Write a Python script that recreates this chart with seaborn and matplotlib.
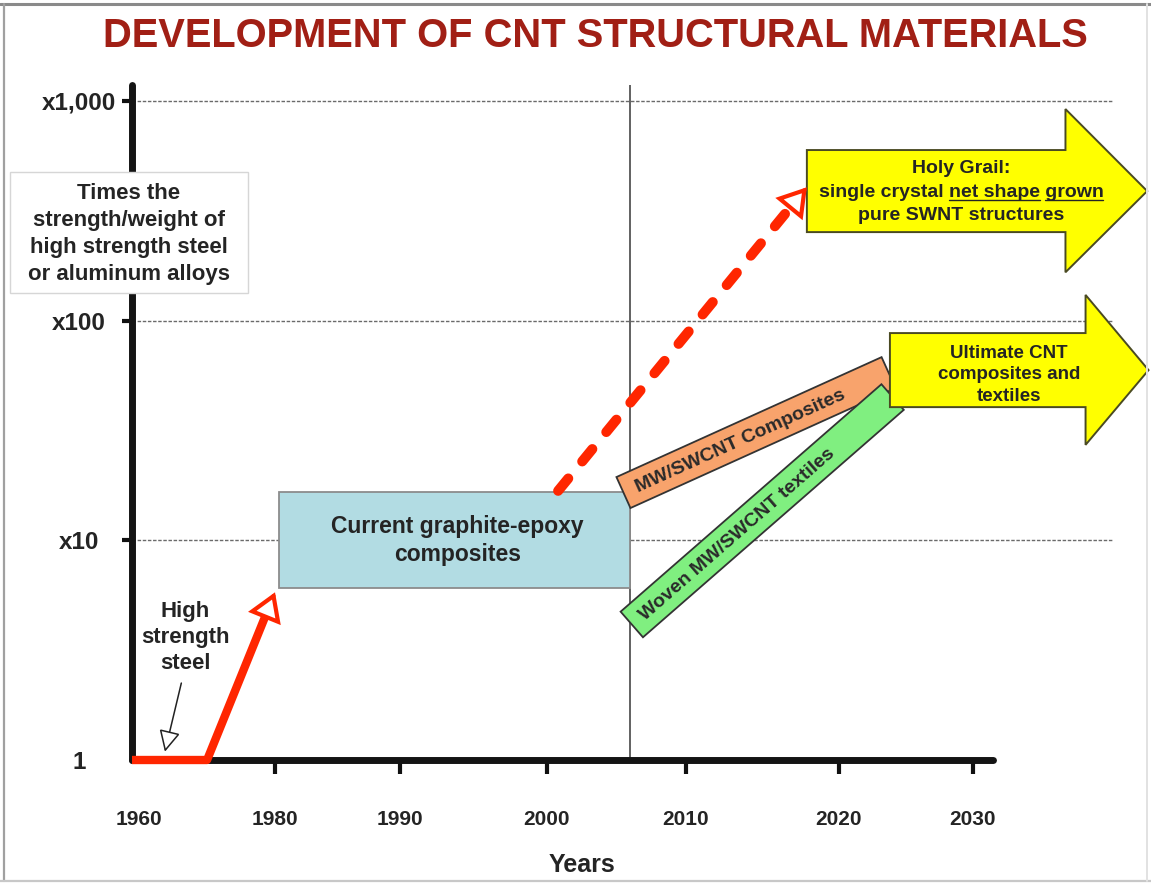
import numpy as np
import pandas as pd
import matplotlib
matplotlib.use("Agg")
import matplotlib.pyplot as plt
import matplotlib.transforms as mtransforms
from matplotlib.patches import Polygon, Rectangle
from matplotlib.lines import Line2D
from matplotlib.ticker import FixedLocator, NullLocator
import seaborn as sns

sns.set_theme(style="white")
plt.rcParams["font.family"] = ["Liberation Sans", "DejaVu Sans"]
plt.rcParams["font.weight"] = "bold"

# ---------------- data ----------------
year_ticks = [1960, 1980, 1990, 2000, 2010, 2020, 2030]
year_labels = ["1960", "1980", "1990", "2000", "2010", "2020", "2030"]
# the time axis is irregular: relative spacing of the labelled years
year_slots = [0, 143, 268, 415, 554, 707, 841]
slots_per_year_beyond = 13.4

value_ticks = [1, 10, 100, 1000]
value_labels = ["1", "x10", "x100", "x1,000"]

steel_years = [1960, 1970.5, 1980]
steel_values = [1.0, 1.0, 5.8]
steel_note_from = (1966.9, 2.24)
steel_note_to = (1964.6, 1.09)

graphite_years = [1980.3, 2006.0]
graphite_values = [6.07, 16.6]

grail_path_years = [2000.8, 2017.9]
grail_path_values = [16.8, 405.0]

today_year = 2006

mw_years = [2005.5, 2023.7]
mw_values = [16.5, 58.0]
woven_years = [2006.1, 2024.0]
woven_values = [4.14, 44.9]

grail_years = [2017.9, 2036.9, 2043.0]      # tail, head base, tip
grail_body = [253.0, 598.0]
grail_head = [166.0, 919.0]

ultimate_years = [2023.8, 2038.4, 2043.1]
ultimate_body = [40.4, 87.8]
ultimate_head = [27.2, 131.0]

# ---------------- style ----------------
RED = "#ff2600"
TXT = "#242424"
W, H = 1151, 884


def fx(px):
    return px / W


def fy(py):
    return 1 - py / H


YRS = np.array(year_ticks, float)
SLT = np.array(year_slots, float)
lo_rate = (SLT[1] - SLT[0]) / (YRS[1] - YRS[0])


def year_to_slot(x):
    x = np.asarray(x, float)
    s = np.interp(x, YRS, SLT)
    s = np.where(x > YRS[-1], SLT[-1] + (x - YRS[-1]) * slots_per_year_beyond, s)
    s = np.where(x < YRS[0], SLT[0] + (x - YRS[0]) * lo_rate, s)
    return s


def slot_to_year(s):
    s = np.asarray(s, float)
    x = np.interp(s, SLT, YRS)
    x = np.where(s > SLT[-1], YRS[-1] + (s - SLT[-1]) / slots_per_year_beyond, x)
    x = np.where(s < SLT[0], YRS[0] + (s - SLT[0]) / lo_rate, x)
    return x


fig = plt.figure(figsize=(W / 100, H / 100), dpi=100)
fig.patch.set_facecolor("white")
ax = fig.add_axes([fx(132), fy(760), (1150 - 132) / W, (760 - 85) / H])
ax.set_facecolor("none")

ax.set_xscale("function", functions=(year_to_slot, slot_to_year))
ax.set_yscale("log")
ax.set_xlim(1960, float(slot_to_year(1018)))
ax.set_ylim(1, 10 ** ((760 - 85) / 219.67))

ax.xaxis.set_major_locator(FixedLocator(year_ticks))
ax.set_xticks(year_ticks, labels=year_labels)
ax.xaxis.set_minor_locator(NullLocator())
ax.yaxis.set_major_locator(FixedLocator(value_ticks))
ax.set_yticks(value_ticks, labels=value_labels)
ax.yaxis.set_minor_locator(NullLocator())

ax.tick_params(axis="x", which="major", bottom=True, direction="out", length=10,
               width=3, color="#111111", pad=26, labelsize=15, labelcolor=TXT)
ax.tick_params(axis="y", which="major", left=True, direction="out", length=7,
               width=3, color="#111111", pad=31, labelsize=17.5, labelcolor=TXT)
for lab in ax.get_yticklabels():
    lab.set_horizontalalignment("center")
for lab in ax.get_xticklabels() + ax.get_yticklabels():
    lab.set_fontweight("bold")
first_tick = ax.xaxis.get_major_ticks()[0]
first_tick.tick1line.set_visible(False)
first_tick.label1.set_transform(first_tick.label1.get_transform()
                                + mtransforms.ScaledTranslation(7 / 100, 0, fig.dpi_scale_trans))
ax.yaxis.get_major_ticks()[0].tick1line.set_visible(False)

for side in ["top", "right"]:
    ax.spines[side].set_visible(False)
for side in ["left", "bottom"]:
    ax.spines[side].set_linewidth(5)
    ax.spines[side].set_color("#141414")
    ax.spines[side].set_capstyle("round")
ax.spines["bottom"].set_bounds(1960, 2031.5)

# dashed reference lines at each decade of improvement
ax.hlines(value_ticks[1:], 1960, 2040.4, colors="#6a6a6a",
          linestyles=(0, (2.5, 1.2)), linewidth=1.0, zorder=0.5)
ax.axvline(today_year, color="#555555", lw=1.3, zorder=1.5)

T = ax.transData
Tinv = ax.transData.inverted()


def back_point(p_from, p_to, dist_px):
    a = T.transform(p_from)
    b = T.transform(p_to)
    d = (b - a) / np.hypot(*(b - a))
    return Tinv.transform(b - d * dist_px)


def open_head(p_from, p_to, color, lw, scale=20, hl=0.8, hw=0.5, z=6):
    ax.annotate("", xy=p_to, xytext=p_from, annotation_clip=False,
                arrowprops=dict(arrowstyle=f"-|>,head_length={hl},head_width={hw}",
                                mutation_scale=scale, lw=lw, ec=color, fc="white",
                                shrinkA=0, shrinkB=0, joinstyle="miter"),
                zorder=z)


# graphite-epoxy box
ax.add_patch(Rectangle((graphite_years[0], graphite_values[0]),
                       graphite_years[1] - graphite_years[0],
                       graphite_values[1] - graphite_values[0],
                       fc="#b2dce3", ec="#8c8c8c", lw=1.3, zorder=2))
ax.text(1993.9, 10.0, "Current graphite-epoxy\ncomposites", ha="center", va="center",
        fontsize=16.5, color=TXT, linespacing=1.3, zorder=3)

# steel line rising to today's composites
tip = (steel_years[-1], steel_values[-1])
base = back_point((steel_years[-2], steel_values[-2]), tip, 22)
steel_df = pd.DataFrame({"year": steel_years[:-1] + [base[0]],
                         "value": steel_values[:-1] + [base[1]]})
sns.lineplot(data=steel_df, x="year", y="value", ax=ax, color=RED, lw=6,
             sort=False, errorbar=None, zorder=5, solid_capstyle="butt",
             solid_joinstyle="round", clip_on=False)
open_head(base, tip, RED, 3)

ax.text(1967.5, 3.6, "High\nstrength\nsteel", ha="center", va="center",
        fontsize=16, color=TXT, linespacing=1.31, zorder=3)
nb = back_point(steel_note_from, steel_note_to, 14)
ax.plot([steel_note_from[0], nb[0]], [steel_note_from[1], nb[1]], color="#222222",
        lw=1.1, zorder=4)
open_head(nb, steel_note_to, "#222222", 1.1, scale=12, hl=1.1, hw=0.55)

# dashed projection toward the holy grail
gtip = (grail_path_years[1], grail_path_values[1])
gbase = back_point((grail_path_years[0], grail_path_values[0]), gtip, 22)
grail_df = pd.DataFrame({"year": [grail_path_years[0], gbase[0]],
                         "value": [grail_path_values[0], gbase[1]]})
sns.lineplot(data=grail_df, x="year", y="value", ax=ax, color=RED, lw=7.2,
             sort=False, errorbar=None, zorder=5, linestyle=(0, (1.6, 2.2)),
             dash_capstyle="round")
open_head(gbase, gtip, RED, 3)


# slanted bands
def band(years, values, thick_px, fc, label, frac, z):
    a = T.transform((years[0], values[0]))
    b = T.transform((years[1], values[1]))
    d = (b - a) / np.hypot(*(b - a))
    n = np.array([-d[1], d[0]])
    corners = [a + n * thick_px / 2, b + n * thick_px / 2,
               b - n * thick_px / 2, a - n * thick_px / 2]
    ax.add_patch(Polygon(Tinv.transform(corners), closed=True, fc=fc, ec="#333333",
                         lw=1.3, zorder=z, clip_on=False))
    ang = np.degrees(np.arctan2(d[1], d[0]))
    p = Tinv.transform(a + (b - a) * frac - n * 2)
    ax.text(p[0], p[1], label, rotation=ang, rotation_mode="anchor", ha="center",
            va="center", fontsize=14, color="#2a2a2a", zorder=z + 0.1)


band(mw_years, mw_values, 34, "#f8a36c", "MW/SWCNT Composites", 0.44, 3)
band(woven_years, woven_values, 34, "#80ef80", "Woven MW/SWCNT textiles", 0.40, 3.5)


# big block arrows
def block_arrow(years, body, head, z):
    x0, xb, xt = years
    yc = np.sqrt(body[0] * body[1])
    verts = [(x0, body[0]), (xb, body[0]), (xb, head[0]), (xt, yc),
             (xb, head[1]), (xb, body[1]), (x0, body[1])]
    ax.add_patch(Polygon(verts, closed=True, fc="#ffff00", ec="#4a4a22", lw=1.4,
                         zorder=z, clip_on=False))


block_arrow(grail_years, grail_body, grail_head, 4)
block_arrow(ultimate_years, ultimate_body, ultimate_head, 4)

ax.text(2032.7, 56.6, "Ultimate CNT\ncomposites and\ntextiles", ha="center",
        va="center", fontsize=13.5, color=TXT, linespacing=1.37, zorder=5)

# holy grail caption with underlined words
gx, gy = 2029.1, 365.0
hfs = 14
lines = ["Holy Grail:", "single crystal net shape grown", "pure SWNT structures"]
offs = [24, 0, -23]
for s, o in zip(lines, offs):
    tr = mtransforms.offset_copy(ax.transData, fig=fig, x=0, y=o, units="dots")
    ax.text(gx, gy, s, transform=tr, ha="center", va="baseline", fontsize=hfs,
            color=TXT, zorder=5)

renderer = fig.canvas.get_renderer()


def text_w(s):
    t = fig.text(0, 0, s, fontsize=hfs, fontweight="bold")
    w = t.get_window_extent(renderer).width
    t.remove()
    return w


line2 = lines[1]
full = text_w(line2)
cx, cy = T.transform((gx, gy))
left = cx - full / 2
segs = [(left + text_w("single crystal net") - text_w("net"),
         left + text_w("single crystal net shape")),
        (left + text_w(line2) - text_w("grown"), left + full)]
for x0, x1 in segs:
    fig.add_artist(Line2D([x0, x1], [cy - 2.5, cy - 2.5], color=TXT, lw=1.0,
                          transform=mtransforms.IdentityTransform(), zorder=6))

ax.set_xlabel("Years", fontsize=18, fontweight="bold", color=TXT)
ax.xaxis.set_label_coords((582 - 132) / 1018, (760 - 853) / 675)
ax.set_ylabel("")

# title
fig.text(fx(595), fy(36), "DEVELOPMENT OF CNT STRUCTURAL MATERIALS", ha="center",
         va="center", fontsize=28.7, fontweight="bold", color="#a11f15")

# axis caption box
fig.add_artist(Rectangle((fx(10), fy(293)), 238 / W, 121 / H, transform=fig.transFigure,
                         fc="white", ec="#d6d6d6", lw=1.0, zorder=10))
fig.text(fx(129), fy(234), "Times the\nstrength/weight of\nhigh strength steel\nor aluminum alloys",
         ha="center", va="center", fontsize=16, color=TXT, linespacing=1.37, zorder=11)

# outer frame
for xs, ys, c, lw in [([0, W], [4, 4], "#8a8a8a", 2.2),
                      ([4, 4], [4, H - 3], "#a0a0a0", 1.6),
                      ([0, W], [H - 3, H - 3], "#c8c8c8", 1.6),
                      ([W - 4, W - 4], [4, H - 3], "#e2e2e2", 1.4)]:
    fig.add_artist(Line2D([fx(v) for v in xs], [fy(v) for v in ys], color=c, lw=lw,
                          transform=fig.transFigure, zorder=12))

fig.savefig("out.png", dpi=100)
